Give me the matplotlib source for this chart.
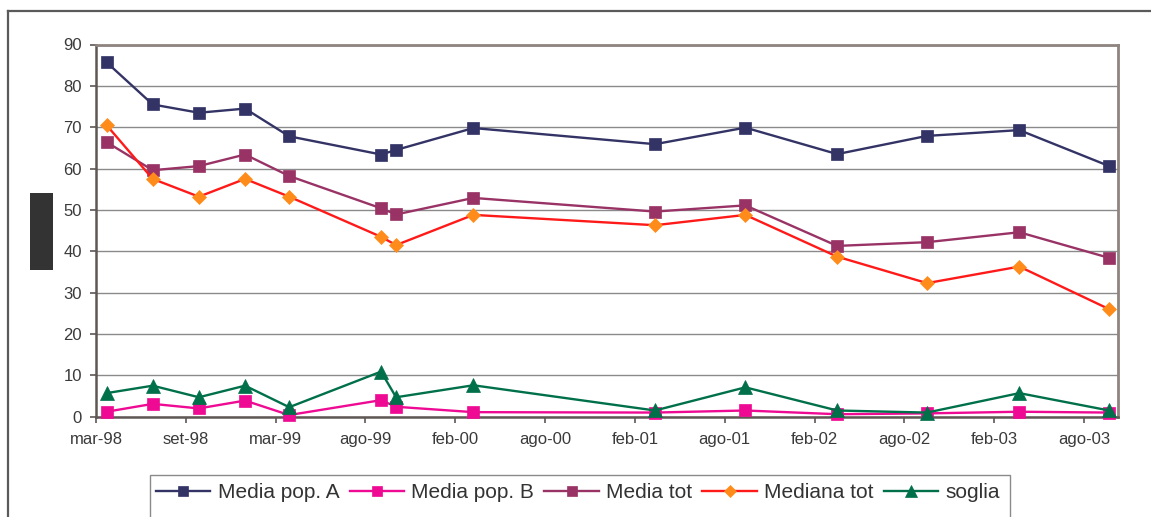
import numpy as np
import matplotlib
matplotlib.use("Agg")
import matplotlib.pyplot as plt
import matplotlib.dates as mdates
from matplotlib.patches import Rectangle
from matplotlib.lines import Line2D

# Sampling dates of the survey rounds
dates = ["1998-04-01", "1998-07-02", "1998-10-02", "1999-01-02", "1999-03-31",
         "1999-09-30", "1999-10-30", "2000-04-01", "2001-03-29", "2001-09-25",
         "2002-03-27", "2002-09-22", "2003-03-25", "2003-09-20"]

media_pop_a = [85.7, 75.5, 73.5, 74.5, 67.8, 63.4, 64.5, 69.8, 65.9, 69.9, 63.5, 67.9, 69.3, 60.6]
media_pop_b = [1.2, 3.1, 2.0, 3.9, 0.4, 4.0, 2.4, 1.1, 1.0, 1.5, 0.6, 0.8, 1.2, 1.0]
media_tot = [66.4, 59.6, 60.6, 63.4, 58.2, 50.4, 48.9, 52.9, 49.6, 51.1, 41.3, 42.2, 44.6, 38.4]
mediana_tot = [70.5, 57.5, 53.2, 57.5, 53.2, 43.5, 41.5, 48.8, 46.3, 48.8, 38.7, 32.3, 36.3, 26.0]
soglia = [5.7, 7.5, 4.7, 7.5, 2.3, 10.9, 4.7, 7.6, 1.5, 7.1, 1.5, 1.0, 5.7, 1.5]

tick_labels = ["mar-98", "set-98", "mar-99", "ago-99", "feb-00", "ago-00",
               "feb-01", "ago-01", "feb-02", "ago-02", "feb-03", "ago-03"]
axis_start = "1998-03-11"
axis_end = "2003-10-07"
tick_step_days = 179

plt.rcParams["font.family"] = ["Liberation Sans", "DejaVu Sans"]

W, H = 1151, 517
fig = plt.figure(figsize=(W / 100, H / 100), dpi=100)


def fx(px):
    return px / W


def fy(py):
    return 1 - py / H


# Outer chart frame (only top and left visible)
fig.add_artist(Line2D([fx(8), fx(8)], [fy(11), fy(520)], color="#5a5a5a", lw=1.6))
fig.add_artist(Line2D([fx(8), fx(1160)], [fy(11), fy(11)], color="#5a5a5a", lw=1.6))

# Covered axis title block
fig.add_artist(Rectangle((fx(30), fy(270)), fx(53) - fx(30), fy(193) - fy(270),
                         color="#333333", lw=0))

left, right, top, bottom = 96, 1117.7, 44.5, 416.7
ax = fig.add_axes([fx(left), fy(bottom), fx(right) - fx(left), fy(top) - fy(bottom)])

x = mdates.datestr2num(dates)
x0 = mdates.datestr2num(axis_start)
x1 = mdates.datestr2num(axis_end)

series = [
    ("Media pop. A", media_pop_a, "#333366", "#333366", "s", 8.3),
    ("Media pop. B", media_pop_b, "#ee0a93", "#ee0a93", "s", 8.3),
    ("Media tot", media_tot, "#993366", "#993366", "s", 8.3),
    ("Mediana tot", mediana_tot, "#ff1a1a", "#ff8c1a", "D", 7.0),
    ("soglia", soglia, "#00704a", "#00704a", "^", 10.0),
]

handles = []
for i, (name, vals, lc, mc, mk, ms) in enumerate(series):
    h, = ax.plot(x, vals, color=lc, lw=1.7, marker=mk, ms=ms,
                 markerfacecolor=mc, markeredgecolor=mc, markeredgewidth=0.5,
                 label=name, zorder=3 + i, clip_on=False)
    handles.append(h)

ax.set_xlim(x0, x1)
ax.set_ylim(0, 90)
ax.set_yticks(np.arange(0, 91, 10))
ax.set_xticks([x0 + tick_step_days * k for k in range(len(tick_labels))])
ax.set_xticklabels(tick_labels)

ax.grid(axis="y", color="#8a8a8a", lw=1.0)
ax.set_axisbelow(True)

for side in ["top", "right"]:
    ax.spines[side].set_color("#8e8480")
    ax.spines[side].set_linewidth(2.0)
for side in ["left", "bottom"]:
    ax.spines[side].set_color("#5e5754")
    ax.spines[side].set_linewidth(1.8)

ax.tick_params(axis="both", colors="#5e5754", labelcolor="#3a3a3a",
               labelsize=12, length=4, width=1.2)
ax.tick_params(axis="y", pad=6)
ax.tick_params(axis="x", pad=7)

# Legend box
fig.add_artist(Rectangle((fx(150.3), fy(525)), fx(1009.7) - fx(150.3), fy(475) - fy(525),
                         facecolor="white", edgecolor="#8a8a8a", lw=1.0))
leg = fig.legend(handles=handles, loc="center", ncol=5,
                 bbox_to_anchor=(fx(578), fy(493)), frameon=False,
                 fontsize=15, handlelength=2.6, handletextpad=0.35,
                 columnspacing=0.5, borderpad=0.2)
for t in leg.get_texts():
    t.set_color("#333333")
for lh in leg.legend_handles:
    lh.set_markersize(lh.get_markersize() * 0.9)

fig.savefig("out.png", dpi=100)
